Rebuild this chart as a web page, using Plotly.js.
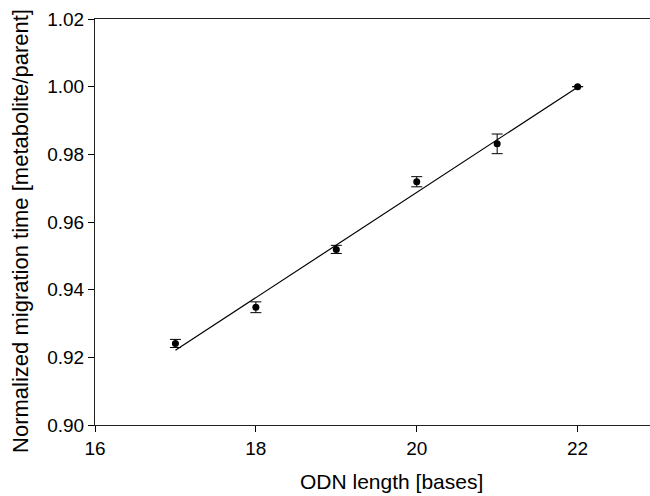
<!DOCTYPE html>
<html>
<head>
<meta charset="utf-8">
<script src="https://cdn.plot.ly/plotly-3.0.1.min.js"></script>
<style>
  html, body { margin: 0; padding: 0; background: #fff; }
  #chart { width: 650px; height: 496px; }
</style>
</head>
<body>
<div id="chart"></div>
<script>
// ODN length vs. normalized migration time
const odnLength = [17, 18, 19, 20, 21, 22];
const migrationRatio = [0.9241, 0.9348, 0.9519, 0.9719, 0.9831, 1.0000];
const ratioError = [0.0012, 0.0016, 0.0012, 0.0015, 0.0029, 0];

const xTickVals = [16, 18, 20, 22];
const yTickVals = [0.90, 0.92, 0.94, 0.96, 0.98, 1.00, 1.02];
const xTitle = 'ODN length [bases]';
const yTitle = 'Normalized migration time [metabolite/parent]';

// Least-squares line through the points
function linearFit(xs, ys) {
  const n = xs.length;
  const mx = xs.reduce((a, b) => a + b, 0) / n;
  const my = ys.reduce((a, b) => a + b, 0) / n;
  let sxy = 0, sxx = 0;
  for (let i = 0; i < n; i++) {
    sxy += (xs[i] - mx) * (ys[i] - my);
    sxx += (xs[i] - mx) * (xs[i] - mx);
  }
  const slope = sxy / sxx;
  return { slope, intercept: my - slope * mx };
}
const fit = linearFit(odnLength, migrationRatio);
const fitX = [odnLength[0], odnLength[odnLength.length - 1]];
const fitY = fitX.map(x => fit.intercept + fit.slope * x);

const font = 'Liberation Sans, Arial, sans-serif';

const traces = [
  {
    x: fitX, y: fitY, type: 'scatter', mode: 'lines',
    line: { color: '#000', width: 1.2 },
    hoverinfo: 'skip'
  },
  {
    x: odnLength, y: migrationRatio, type: 'scatter', mode: 'markers',
    marker: { color: '#000', size: 7 },
    error_y: { type: 'data', array: ratioError, visible: true,
               color: '#000', thickness: 1, width: 5.5 }
  }
];

const layout = {
  width: 650, height: 496,
  margin: { l: 95, r: 0, t: 19, b: 71 },
  paper_bgcolor: '#fff', plot_bgcolor: '#fff',
  showlegend: false,
  font: { family: font, color: '#000', size: 19 },
  xaxis: {
    range: [16, 22.9],
    tickvals: xTickVals,
    ticktext: xTickVals.map(v => v.toFixed(0)),
    ticks: 'outside', ticklen: 6, tickwidth: 1, tickcolor: '#000',
    showline: true, linecolor: '#222', linewidth: 1, mirror: true,
    showgrid: false, zeroline: false,
    tickfont: { size: 19 },
    automargin: false
  },
  yaxis: {
    range: [0.90, 1.02],
    tickvals: yTickVals,
    ticktext: yTickVals.map(v => v.toFixed(2)),
    ticks: 'outside', ticklen: 6, tickwidth: 1, tickcolor: '#000',
    showline: true, linecolor: '#222', linewidth: 1,
    showgrid: false, zeroline: false,
    tickfont: { size: 19 },
    automargin: false
  },
  annotations: [
    {
      text: xTitle, xref: 'paper', yref: 'paper',
      x: 0.535, y: 0, xanchor: 'center', yanchor: 'middle',
      yshift: -56, showarrow: false, font: { size: 21 }
    },
    {
      text: yTitle, xref: 'paper', yref: 'paper',
      x: 0, y: 0.478, xanchor: 'center', yanchor: 'middle',
      xshift: -74, textangle: -90, showarrow: false, font: { size: 22 }
    }
  ]
};

Plotly.newPlot('chart', traces, layout, { staticPlot: true, displayModeBar: false });
</script>
</body>
</html>
